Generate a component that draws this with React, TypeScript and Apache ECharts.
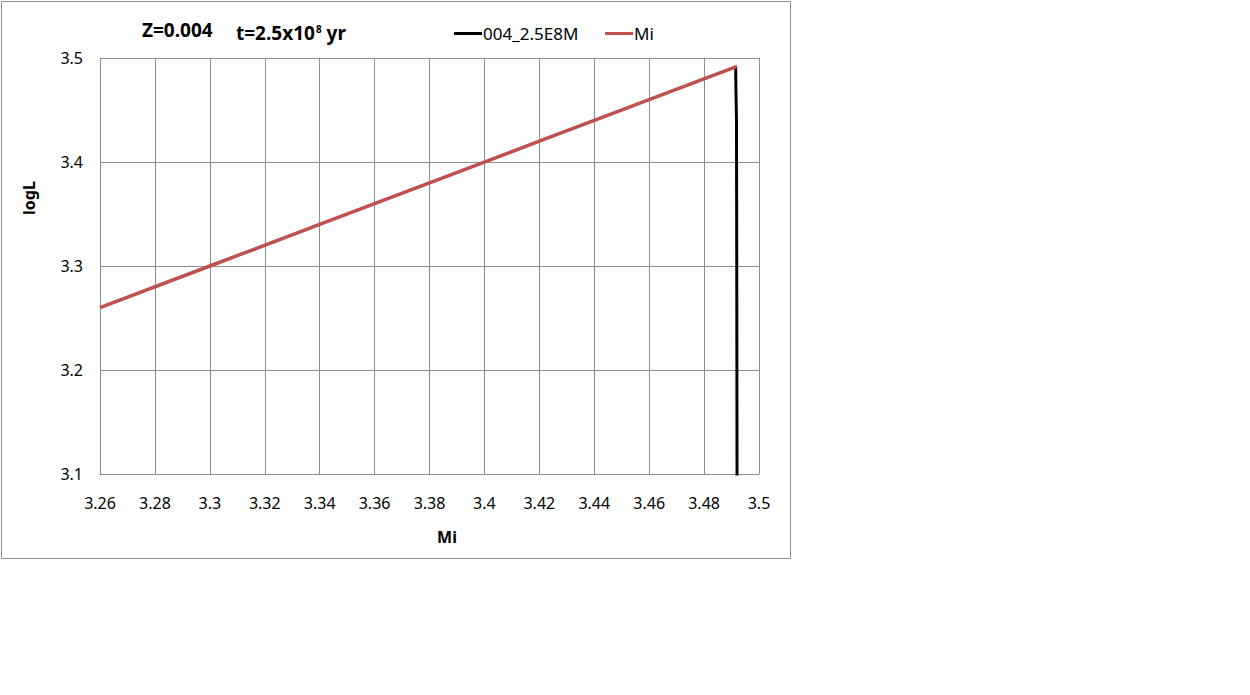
import React, { useEffect, useRef } from "react";
import * as echarts from "echarts";

// Isochrone track: initial mass vs logL
const trackMi = [3.4915, 3.4916, 3.4918, 3.4919, 3.492, 3.492];
const trackLogL = [3.492, 3.47, 3.44, 3.3, 3.1, 3.0];

// Reference line Mi vs Mi
const miX = [3.26, 3.3, 3.34, 3.38, 3.42, 3.46, 3.492];
const miY = [3.26, 3.3, 3.34, 3.38, 3.42, 3.46, 3.492];

const xTicks = { min: 3.26, max: 3.5, interval: 0.02 };
const yTicks = { min: 3.1, max: 3.5, interval: 0.1 };

const FONT = "'Noto Sans', 'Open Sans', sans-serif";
const GRID_COLOR = "#8c8c8c";

export default function App() {
  const ref = useRef<HTMLDivElement>(null);

  useEffect(() => {
    document.body.style.margin = "0";
    const chart = echarts.init(ref.current!, null, { renderer: "svg" });
    const bold = { fontFamily: FONT, fontWeight: "bold", fill: "#000" };
    chart.setOption({
      animation: false,
      backgroundColor: "#ffffff",
      textStyle: { fontFamily: FONT },
      graphic: [
        {
          type: "rect",
          shape: { x: 1.5, y: 1.5, width: 789, height: 557 },
          style: { fill: "none", stroke: "#8c8c8c", lineWidth: 1 },
        },
        {
          type: "text",
          x: 142,
          y: 30,
          style: { ...bold, text: "Z=0.004", fontSize: 19, verticalAlign: "middle" },
        },
        {
          type: "text",
          x: 236,
          y: 18,
          style: {
            text: "{a|t=2.5x10}{s|8}{a| yr}",
            rich: {
              a: { ...bold, fontSize: 19, lineHeight: 24, verticalAlign: "bottom" },
              s: { ...bold, fontSize: 10, lineHeight: 10, verticalAlign: "top", padding: [6, 0, 0, 1] },
            },
          },
        },
        {
          type: "text",
          x: 447,
          y: 537,
          style: { ...bold, text: "Mi", fontSize: 16, align: "center", verticalAlign: "middle" },
        },
        {
          type: "text",
          x: 29,
          y: 198,
          rotation: Math.PI / 2,
          style: { ...bold, text: "logL", fontSize: 16, align: "center", verticalAlign: "middle" },
        },
      ],
      legend: [
        {
          top: 20,
          left: 449,
          itemWidth: 28,
          itemHeight: 3,
          icon: "rect",
          textStyle: { fontFamily: FONT, fontSize: 17, color: "#000", padding: [0, 0, 0, -4] },
          data: ["004_2.5E8M"],
        },
        {
          top: 20,
          left: 600,
          itemWidth: 28,
          itemHeight: 3,
          icon: "rect",
          textStyle: { fontFamily: FONT, fontSize: 17, color: "#000", padding: [0, 0, 0, -4] },
          data: ["Mi"],
        },
      ],
      grid: { left: 100, top: 58, width: 659, height: 416, show: false },
      xAxis: {
        type: "value",
        min: xTicks.min,
        max: xTicks.max,
        interval: xTicks.interval,
        axisLine: { show: true, lineStyle: { color: GRID_COLOR } },
        axisTick: { show: false },
        axisLabel: {
          margin: 21,
          fontFamily: FONT,
          fontSize: 16,
          color: "#000",
          formatter: (v: number) => String(parseFloat(v.toFixed(2))),
        },
        splitLine: { show: true, lineStyle: { color: GRID_COLOR, width: 1 } },
      },
      yAxis: {
        type: "value",
        min: yTicks.min,
        max: yTicks.max,
        interval: yTicks.interval,
        axisLine: { show: true, lineStyle: { color: GRID_COLOR } },
        axisTick: { show: false },
        axisLabel: {
          margin: 17,
          fontFamily: FONT,
          fontSize: 16,
          color: "#000",
          formatter: (v: number) => v.toFixed(1),
        },
        splitLine: { show: true, lineStyle: { color: GRID_COLOR, width: 1 } },
      },
      series: [
        {
          name: "004_2.5E8M",
          type: "line",
          showSymbol: false,
          clip: true,
          color: "#000000",
          lineStyle: { color: "#000000", width: 3 },
          data: trackMi.map((x, i) => [x, trackLogL[i]]),
          z: 2,
        },
        {
          name: "Mi",
          type: "line",
          showSymbol: false,
          clip: true,
          color: "#c0504d",
          lineStyle: { color: "#c0504d", width: 3.5 },
          data: miX.map((x, i) => [x, miY[i]]),
          z: 3,
        },
      ],
    });
    return () => chart.dispose();
  }, []);

  return <div ref={ref} style={{ width: 1250, height: 695 }} />;
}
